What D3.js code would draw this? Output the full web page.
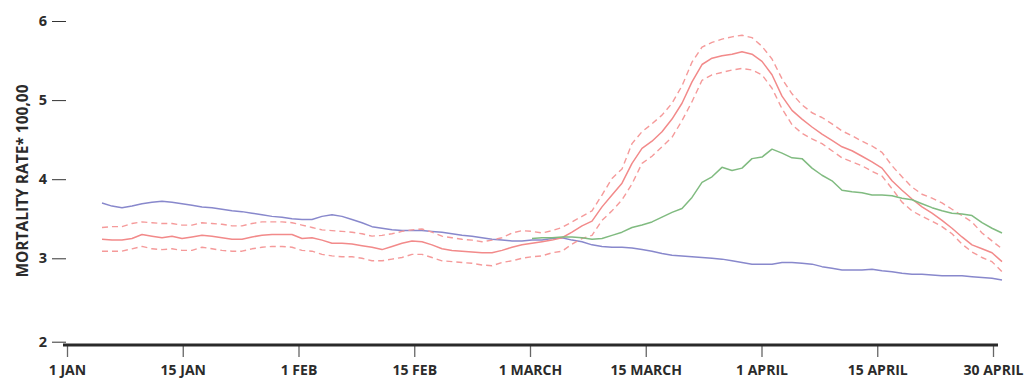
<!DOCTYPE html>
<html>
<head>
<meta charset="utf-8">
<script src="https://cdn.jsdelivr.net/npm/d3@7"></script>
<style>
  html, body { margin: 0; padding: 0; background: #fff; }
  svg { display: block; }
  text { font-family: "Open Sans", "Liberation Sans", sans-serif; font-weight: 700; fill: #2b2b2b; }
</style>
</head>
<body>
<svg id="chart" width="1032" height="381"></svg>
<script>
// ---- Data ----
const tickLabels = ["1 JAN", "15 JAN", "1 FEB", "15 FEB", "1 MARCH", "15 MARCH", "1 APRIL", "15 APRIL", "30 APRIL"];
const yTicks = [2, 3, 4, 5, 6];
const yTitle = "MORTALITY RATE* 100,00";

// 91 samples, evenly spaced along the series (early Jan to end of April)
const blue = [3.70,3.66,3.64,3.66,3.69,3.71,3.72,3.71,3.69,3.67,
              3.65,3.64,3.62,3.60,3.59,3.57,3.55,3.53,3.52,3.50,
              3.49,3.49,3.53,3.55,3.53,3.49,3.45,3.40,3.38,3.36,
              3.35,3.35,3.35,3.34,3.33,3.31,3.29,3.28,3.26,3.24,
              3.23,3.22,3.22,3.23,3.23,3.25,3.26,3.23,3.21,3.17,
              3.15,3.14,3.14,3.13,3.11,3.09,3.06,3.04,3.03,3.02,
              3.01,3.00,2.99,2.97,2.95,2.93,2.93,2.93,2.95,2.95,
              2.94,2.93,2.90,2.88,2.86,2.86,2.86,2.87,2.85,2.84,
              2.82,2.81,2.81,2.80,2.79,2.79,2.79,2.78,2.77,2.76,2.74];

const red = [3.24,3.23,3.23,3.25,3.30,3.28,3.26,3.28,3.25,3.27,
             3.29,3.28,3.26,3.24,3.24,3.27,3.29,3.30,3.30,3.30,
             3.25,3.26,3.23,3.19,3.19,3.18,3.16,3.14,3.11,3.15,
             3.19,3.22,3.21,3.17,3.12,3.10,3.09,3.08,3.07,3.07,
             3.10,3.14,3.17,3.19,3.21,3.23,3.26,3.33,3.41,3.47,
             3.65,3.80,3.95,4.20,4.39,4.48,4.60,4.76,4.96,5.23,
             5.45,5.53,5.56,5.58,5.61,5.58,5.49,5.32,5.05,4.87,
             4.76,4.66,4.57,4.49,4.41,4.36,4.29,4.22,4.14,3.98,
             3.86,3.75,3.65,3.57,3.48,3.38,3.27,3.17,3.12,3.07,2.96];

const redUpper = [3.39,3.40,3.40,3.44,3.46,3.45,3.44,3.44,3.42,3.42,
                  3.45,3.44,3.43,3.41,3.41,3.44,3.46,3.46,3.46,3.45,
                  3.42,3.39,3.36,3.35,3.34,3.33,3.31,3.28,3.29,3.31,
                  3.34,3.36,3.37,3.33,3.28,3.26,3.24,3.23,3.21,3.23,
                  3.26,3.32,3.35,3.34,3.32,3.35,3.39,3.46,3.53,3.60,
                  3.80,4.01,4.13,4.45,4.60,4.70,4.81,4.96,5.18,5.48,
                  5.67,5.73,5.77,5.80,5.82,5.79,5.68,5.52,5.27,5.08,
                  4.94,4.84,4.78,4.70,4.61,4.55,4.48,4.42,4.34,4.17,
                  4.03,3.90,3.81,3.76,3.70,3.62,3.54,3.46,3.32,3.22,3.12];

const redLower = [3.09,3.09,3.09,3.12,3.15,3.12,3.11,3.12,3.10,3.10,
                  3.14,3.12,3.10,3.09,3.09,3.12,3.14,3.15,3.15,3.14,
                  3.10,3.09,3.05,3.03,3.02,3.02,3.00,2.97,2.97,2.99,
                  3.01,3.05,3.05,3.01,2.97,2.96,2.95,2.94,2.92,2.91,
                  2.95,2.97,3.00,3.02,3.03,3.07,3.09,3.18,3.25,3.29,
                  3.48,3.60,3.74,3.94,4.20,4.29,4.41,4.53,4.74,4.98,
                  5.25,5.32,5.35,5.38,5.40,5.38,5.32,5.15,4.89,4.69,
                  4.58,4.51,4.45,4.36,4.27,4.22,4.17,4.10,4.04,3.88,
                  3.71,3.60,3.53,3.47,3.40,3.31,3.18,3.08,3.01,2.96,2.84];

// green series begins at sample 43 (around 1 March)
const greenStart = 43;
const green = [3.25,3.26,3.26,3.27,3.27,3.26,3.24,3.25,3.29,3.33,
               3.39,3.42,3.46,3.52,3.58,3.63,3.77,3.96,4.03,4.15,
               4.11,4.14,4.26,4.28,4.38,4.33,4.27,4.26,4.14,4.05,
               3.98,3.86,3.84,3.83,3.80,3.80,3.79,3.76,3.74,3.69,
               3.64,3.60,3.57,3.56,3.54,3.45,3.38,3.32];

// ---- Chart ----
const svg = d3.select("#chart");

const y = d3.scaleLinear().domain([2, 3, 6]).range([341.7, 258.3, 21]);
const xTick = d3.scalePoint().domain(tickLabels).range([67, 993]);
const xs = d3.scaleLinear().domain([0, blue.length - 1]).range([102, 1002]);

// Y axis
const yAxis = svg.append("g").attr("transform", "translate(66,0)")
  .call(d3.axisLeft(y).tickValues(yTicks).tickFormat(d3.format("d")).tickSize(14).tickPadding(5));
yAxis.select(".domain").remove();
yAxis.selectAll(".tick line").attr("stroke", "#333").attr("stroke-width", 1);
yAxis.selectAll(".tick text").style("font-size", "14.5px").style("font-family", "'Open Sans', sans-serif").style("font-weight", 700).attr("fill", "#2b2b2b");

// Y title
svg.append("text")
  .attr("transform", "translate(27.5,181) rotate(-90)")
  .attr("text-anchor", "middle")
  .style("font-size", "15.5px")
  .text(yTitle);

// X axis
const xAxis = svg.append("g").attr("transform", "translate(0,345)")
  .call(d3.axisBottom(xTick).tickSize(12).tickPadding(8));
xAxis.select(".domain").remove();
xAxis.selectAll(".tick line").attr("stroke", "#666").attr("stroke-width", 1.3);
xAxis.selectAll(".tick text").style("font-size", "14px").style("font-family", "'Open Sans', sans-serif").style("font-weight", 700).attr("fill", "#2b2b2b");
const [r0, r1] = xTick.range();
xAxis.append("line").attr("x1", r0 - 4).attr("x2", r1 + 5).attr("y1", 0).attr("y2", 0)
  .attr("stroke", "#2a2a2a").attr("stroke-width", 3);

// Lines
const line = d3.line().x((d, i) => xs(i)).y(d => y(d));
const lineG = d3.line().x((d, i) => xs(i + greenStart)).y(d => y(d));

const g = svg.append("g").attr("fill", "none").attr("stroke-linejoin", "round");
g.append("path").attr("d", line(blue)).attr("stroke", "#8888cc").attr("stroke-width", 1.5);
g.append("path").attr("d", line(redUpper)).attr("stroke", "#f59a9a").attr("stroke-width", 1.4).attr("stroke-dasharray", "6,4");
g.append("path").attr("d", line(redLower)).attr("stroke", "#f59a9a").attr("stroke-width", 1.4).attr("stroke-dasharray", "6,4");
g.append("path").attr("d", line(red)).attr("stroke", "#f28a8a").attr("stroke-width", 1.5);
g.append("path").attr("d", lineG(green)).attr("stroke", "#80bb80").attr("stroke-width", 1.5);
</script>
</body>
</html>
